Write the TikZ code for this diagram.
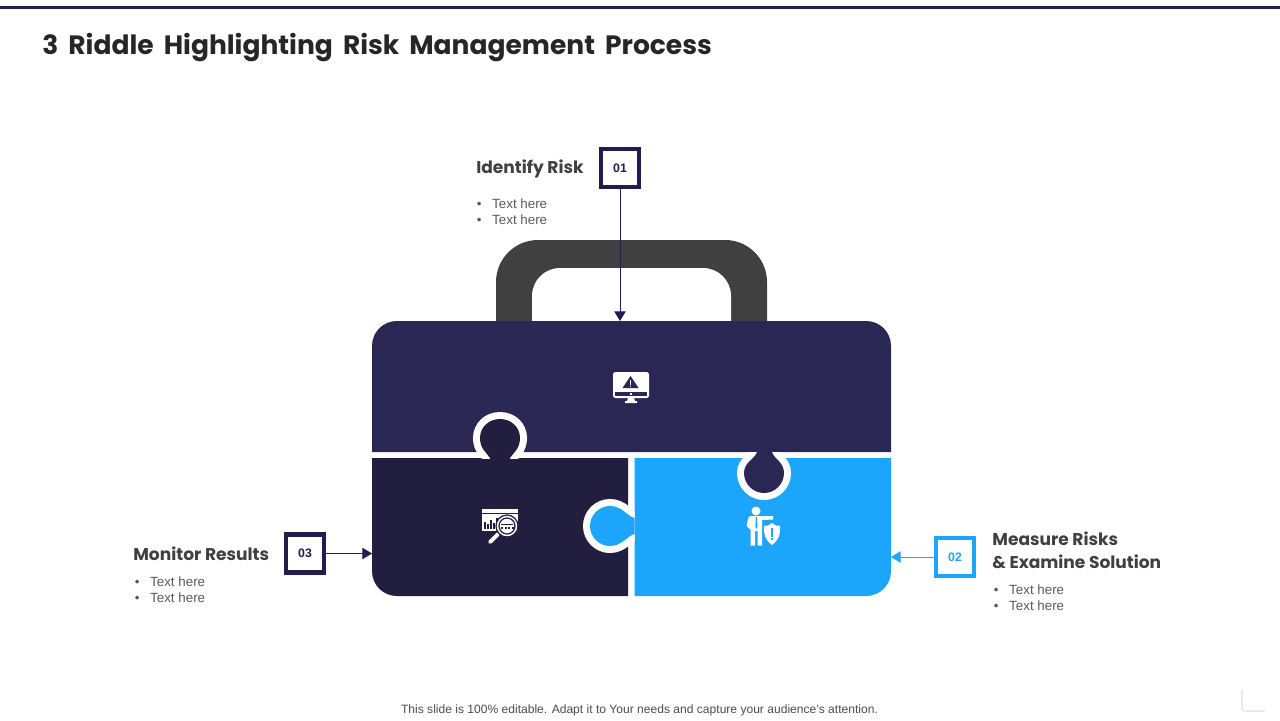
\documentclass[tikz,border=0pt]{standalone}
\usepackage{fontspec}
\setmainfont{Liberation Sans}
\newfontfamily\headfont{Poppins}
\usetikzlibrary{positioning,arrows.meta,shadows}
\definecolor{navy}{HTML}{2B2755}
\definecolor{deep}{HTML}{211E3F}
\definecolor{sky}{HTML}{1CA6FB}
\definecolor{handle}{HTML}{404040}
\definecolor{edge}{HTML}{211E4F}
\tikzset{
  numbox/.style={draw=#1, line width=2.6pt, fill=white, minimum size=0.76cm, inner sep=0pt, text=#1,
    font=\bfseries\fontsize{7}{9}\selectfont, drop shadow={opacity=0.2, shadow xshift=0.3pt, shadow yshift=-0.5pt}},
  headtext/.style={anchor=west, align=left, inner sep=0pt, text=handle, font=\headfont\bfseries\fontsize{9.7}{13}\selectfont},
  listtext/.style={anchor=north west, align=left, inner sep=0pt, text=black!65, font=\fontsize{7.6}{9.1}\selectfont},
  pointer/.style={-{Triangle[length=5.5pt,width=6.5pt]}, line width=0.5pt, draw=#1},
  knob/.style={fill=#1, preaction={draw=white, line width=0.28cm}},
}
\newcommand{\twolines}{\makebox[9.6pt][l]{\hspace{0.8pt}•}Text here\\\makebox[9.6pt][l]{\hspace{0.8pt}•}Text here}
\begin{document}
\begin{tikzpicture}[x=0.02cm, y=-0.02cm]
  \useasboundingbox (0,0) rectangle (1280,720);
  \fill[edge] (0,6) rectangle (1280,8.5);
  \node (TT) [anchor=west, inner sep=0pt, text=black!85, font=\headfont\bfseries\fontsize{15.1}{18}\selectfont] at (42,48)
    {3\, Riddle\, Highlighting\, Risk\, Management\, Process};

  % handle
  \fill[handle, rounded corners=0.84cm] (496,240) rectangle (767,400);
  \fill[white, rounded corners=0.56cm] (532,268) rectangle (731,400);

  % pieces
  \fill[navy] (372,452) -- (372,346) .. controls (372,332) and (383,321) .. (397,321) -- (866,321)
    .. controls (880,321) and (891,332) .. (891,346) -- (891,452) -- cycle;
  \fill[deep] (372,458) -- (628,458) -- (628,596) -- (397,596)
    .. controls (383,596) and (372,585) .. (372,571) -- cycle;
  \fill[sky] (634.5,458) -- (891,458) -- (891,571) .. controls (891,585) and (880,596) .. (866,596)
    -- (634.5,596) -- cycle;

  % knobs
  \begin{scope}
    \clip (460,400) rectangle (540,458);
    \path[knob=deep] (490,470) -- (490,458) .. controls (487,453) and (480,449) .. (480,438)
      .. controls (480,427) and (489,419) .. (500,419) .. controls (511,419) and (520,427) .. (520,438)
      .. controls (520,449) and (513,453) .. (510,458) -- (510,470);
  \end{scope}
  \begin{scope}
    \clip (570,490) rectangle (634.5,560);
    \path[knob=sky] (645,518) -- (634.5,518) .. controls (627,516) and (622,506) .. (610,506)
      .. controls (599,506) and (590,515) .. (590,526) .. controls (590,537) and (599,546) .. (610,546)
      .. controls (622,546) and (627,536) .. (634.5,534) -- (645,534);
  \end{scope}
  \begin{scope}
    \clip (725,452) rectangle (805,510);
    \path[knob=navy] (757,440) -- (757,452) .. controls (755,459) and (744,462) .. (744,473)
      .. controls (744,484) and (753,493) .. (764,493) .. controls (775,493) and (784,484) .. (784,473)
      .. controls (784,462) and (774,459) .. (772,452) -- (772,440);
  \end{scope}

  % monitor
  \fill[white, rounded corners=1pt] (613,372) rectangle (649,398);
  \fill[navy] (615,392) rectangle (647,396);
  \fill[white] (630,393) rectangle (632,395);
  \fill[navy] (630.5,376) -- (638.5,388) -- (622.5,388) -- cycle;
  \fill[white] (629.6,380) rectangle (631.4,385);
  \fill[white] (629.6,386) rectangle (631.4,387.4);
  \fill[white] (628,398) -- (634,398) -- (635,401) -- (637,401) -- (637,403) -- (625,403) -- (625,401) -- (627,401) -- cycle;

  % window and lens
  \fill[white] (482,509) rectangle (518,531);
  \fill[deep] (482,512.5) rectangle (518,514);
  \foreach \x/\h in {484/7, 487/5, 490/9, 493/6, 496/11} {
    \fill[deep] (\x,529) rectangle (\x+1.6,529-\h);
  }
  \draw[white, line width=2.2pt, line cap=round] (490,542) -- (498,534);
  \fill[white, draw=deep, line width=0.7pt] (507,526) circle (11);
  \draw[deep, line width=0.7pt] (507,526) circle (8);
  \fill[deep] (501,524) rectangle (513,525);
  \foreach \x in {501,504.5,508,511.5} {
    \fill[deep] (\x,527) rectangle (\x+2,529);
  }

  % person and shield
  \fill[white] (756,511) circle (4.5);
  \fill[white] (748,519) .. controls (748,516.5) and (750,516) .. (752,516) -- (760,516) -- (773,516) -- (773,519.5) -- (762,520)
    -- (762,545.5) -- (757.5,545.5) -- (757.5,531) -- (755,531) -- (755,545.5) -- (750.5,545.5) -- (750.5,530)
    -- (746.5,526) -- cycle;
  \fill[sky] (755.8,517) -- (757,517) -- (757.4,527) -- (756.4,528.5) -- (755.4,527) -- cycle;
  \fill[white] (772,523) .. controls (775,525.5) and (777,526) .. (780,526) .. controls (780.5,535) and (778,541) .. (772,545)
    .. controls (766,541) and (763.5,535) .. (764,526) .. controls (767,526) and (769,525.5) .. (772,523) -- cycle;
  \fill[sky] (771,528) rectangle (773,536.5);
  \fill[sky] (771,538) rectangle (773,540);

  % callouts
  \node (N1) [numbox=edge] at (620,168) {01};
  \node (N2) [numbox=sky] at (955,557) {02};
  \node (N3) [numbox=edge] at (305,553.5) {03};
  \coordinate (P1) at (620,321);
  \coordinate (P2) at (891,557);
  \coordinate (P3) at (372,553.5);
  \draw [pointer=edge] (N1) -- (P1);
  \draw [pointer=sky] (N2) -- (P2);
  \draw [pointer=edge] (N3) -- (P3);

  \node (H1) [headtext] at (476,169) {Identify Risk};
  \node (L1) [listtext] at (475,198) {\twolines};
  \node (H2) [headtext] at (992,550.5) {Measure Risks\\\& Examine Solution};
  \node (L2) [listtext] at (992,584) {\twolines};
  \node (H3) [headtext] at (133,553.5) {Monitor Results};
  \node (L3) [listtext] at (133,576) {\twolines};

  \node (FT) [inner sep=0pt, text=black!70, font=\fontsize{6.87}{9}\selectfont] at (639.5,710)
    {This slide is 100\% editable. Adapt it to Your needs and capture your audience's attention.};
  \draw[black!8, line width=1pt, rounded corners=2pt] (1242,690) -- (1242,711) -- (1265,711);
\end{tikzpicture}
\end{document}
